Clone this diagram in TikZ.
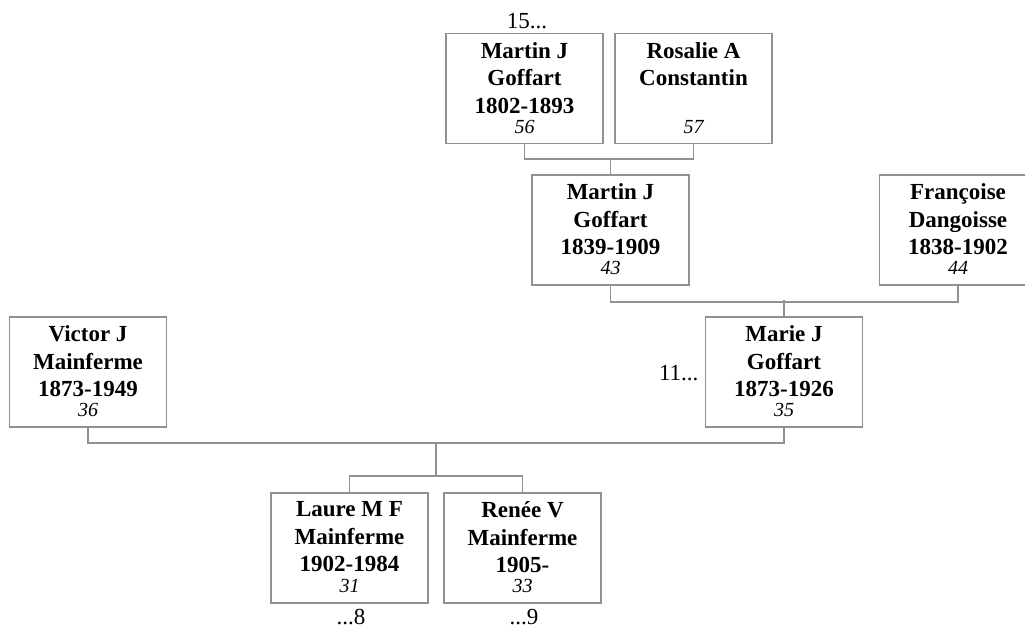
\documentclass[tikz,border=0pt]{standalone}
\usepackage{fontspec}
\setmainfont{Liberation Serif}
\usetikzlibrary{calc}
\definecolor{linegray}{RGB}{145,145,145}
\tikzset{
  person/.style={draw=linegray, line width=1.7pt, fill=white, minimum width=157pt, minimum height=110pt, inner sep=0pt},
  pname/.style={anchor=north, inner sep=0pt, align=center, font=\fontsize{23}{27.5}\selectfont\bfseries},
  pnum/.style={anchor=base, inner sep=0pt, font=\fontsize{20}{24}\selectfont\itshape},
  more/.style={inner sep=0pt, font=\fontsize{23}{27}\selectfont},
  conn/.style={draw=linegray, line width=1.7pt}
}
\begin{document}
\begin{tikzpicture}[x=1pt,y=1pt]
\useasboundingbox (0,0) rectangle (1025,628);
% boxes
\node[person] (m56) at (524.5,539.5) {};
\node[person] (r57) at (693.5,539.5) {};
\node[person] (m43) at (610.5,398) {};
\node[person] (f44) at (958,398) {};
\node[person] (v36) at (88,256) {};
\node[person] (mj35) at (784,256) {};
\node[person] (l31) at (349.5,80) {};
\node[person] (r33) at (522.5,80) {};
% names
\node[pname] (t56) at ($(m56.north)+(0,-9.5)$) {Martin J\\Goffart\\1802-1893};
\node[pname] (t57) at ($(r57.north)+(0,-9.5)$) {Rosalie A\\Constantin};
\node[pname] (t43) at ($(m43.north)+(0,-9.5)$) {Martin J\\Goffart\\1839-1909};
\node[pname] (t44) at ($(f44.north)+(0,-9.5)$) {Françoise\\Dangoisse\\1838-1902};
\node[pname] (t36) at ($(v36.north)+(0,-9.5)$) {Victor J\\Mainferme\\1873-1949};
\node[pname] (t35) at ($(mj35.north)+(0,-9.5)$) {Marie J\\Goffart\\1873-1926};
\node[pname] (t31) at ($(l31.north)+(0,-9.5)$) {Laure M F\\Mainferme\\1902-1984};
\node[pname] (t33) at ($(r33.north)+(0,-9.5)$) {Renée V\\Mainferme\\1905-};
% numbers
\node[pnum] (n56) at ($(m56.south)+(0,11)$) {56};
\node[pnum] (n57) at ($(r57.south)+(0,11)$) {57};
\node[pnum] (n43) at ($(m43.south)+(0,11)$) {43};
\node[pnum] (n44) at ($(f44.south)+(0,11)$) {44};
\node[pnum] (n36) at ($(v36.south)+(0,11)$) {36};
\node[pnum] (n35) at ($(mj35.south)+(0,11)$) {35};
\node[pnum] (n31) at ($(l31.south)+(0,11)$) {31};
\node[pnum] (n33) at ($(r33.south)+(0,11)$) {33};
% continuation marks
\node[more, anchor=base] (e15) at ($(m56.north)+(2.5,4)$) {15...};
\node[more, anchor=base east] (e11) at ($(mj35.west)+(-6,-9)$) {11...};
\node[more, anchor=base] (e8) at ($(l31.south)+(1.5,-21)$) {...8};
\node[more, anchor=base] (e9) at ($(r33.south)+(1.5,-21)$) {...9};
% connectors
\draw[conn] (m56.south) -- ++(0,-15) -| (r57.south);
\draw[conn] (m43.north) -- ++(0,16);
\draw[conn] (m43.south) -- ++(0,-16) -| (f44.south);
\draw[conn] (mj35.north) -- ++(0,16);
\draw[conn] (v36.south) -- ++(0,-15) -| (mj35.south);
\coordinate (cj) at ($(v36.south)!0.5!(mj35.south)+(0,-15)$);
\draw[conn] (l31.north) -- ++(0,16) -| (r33.north);
\draw[conn] (cj) -- ($(l31.north)!0.5!(r33.north)+(0,16)$) coordinate (cb);
\end{tikzpicture}
\end{document}
